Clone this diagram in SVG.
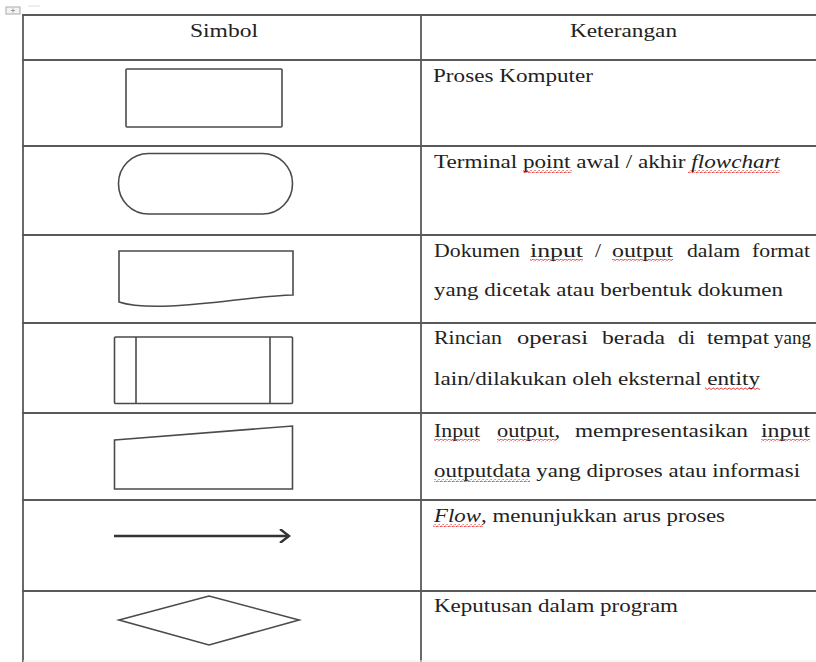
<svg xmlns="http://www.w3.org/2000/svg" width="816" height="662" viewBox="0 0 816 662" font-family="'Liberation Serif', Tinos, 'Times New Roman', 'DejaVu Serif', serif">
<style>
.grid{stroke:#5a5a5a;stroke-width:1.8;fill:none}
.sym{stroke:#4a4a4a;stroke-width:1.6;fill:#fff}
.t{font-size:18.5px;fill:#222}
.i{font-style:italic}
.sq{fill:url(#wave)}
</style>
<defs>
<pattern id="wave" width="4" height="3" patternUnits="userSpaceOnUse">
<path d="M0,2 Q1,0 2,1.5 T4,2" stroke="#e03030" stroke-width="0.9" fill="none"/>
</pattern>
<marker id="ah" markerWidth="12" markerHeight="14" refX="10" refY="7" orient="auto" markerUnits="userSpaceOnUse">
<path d="M1,0 L10,7 L1,14" fill="none" stroke="#333" stroke-width="2.4"/>
</marker>
</defs>
<rect width="816" height="662" fill="#fff"/>
<g id="handle">
<rect x="6" y="7" width="14" height="7" fill="#f4f4f4" stroke="#aaa" stroke-width="1"/>
<path d="M13,8.5 V12.5 M11,10.5 H15" stroke="#888" stroke-width="0.8"/>
<line x1="28" y1="6" x2="40" y2="6" stroke="#ddd" stroke-width="1"/>
</g>
<g id="table">
<line class="grid" x1="22" y1="15" x2="816" y2="15"/>
<line class="grid" x1="22" y1="60" x2="816" y2="60"/>
<line class="grid" x1="22" y1="146" x2="816" y2="146"/>
<line class="grid" x1="22" y1="235" x2="816" y2="235"/>
<line class="grid" x1="22" y1="323" x2="816" y2="323"/>
<line class="grid" x1="22" y1="413" x2="816" y2="413"/>
<line class="grid" x1="22" y1="500" x2="816" y2="500"/>
<line class="grid" x1="22" y1="591" x2="816" y2="591"/>
<line class="grid" x1="23" y1="15" x2="23" y2="662"/>
<line class="grid" x1="421" y1="15" x2="421" y2="662"/>
<line x1="23" y1="661" x2="816" y2="661" stroke="#eee" stroke-width="1"/>
</g>
<g id="header">
<text class="t" x="190" y="37" textLength="68" lengthAdjust="spacingAndGlyphs">Simbol</text>
<text class="t" x="570" y="37" textLength="107" lengthAdjust="spacingAndGlyphs">Keterangan</text>
</g>
<g id="proses">
<rect class="sym" x="126" y="69" width="156" height="58" rx="1"/>
<text class="t" x="433" y="82" textLength="160" lengthAdjust="spacingAndGlyphs">Proses Komputer</text>
</g>
<g id="terminal">
<rect class="sym" x="118.5" y="153.5" width="174" height="60.5" rx="30"/>
<text class="t" x="434" y="168" textLength="346" lengthAdjust="spacingAndGlyphs">Terminal point awal / akhir <tspan class="i">flowchart</tspan></text>
<rect class="sq" x="523" y="170" width="49" height="3"/>
<rect class="sq" x="688" y="170" width="92" height="3"/>
</g>
<g id="dokumen">
<path class="sym" d="M119,251 L293,251 L293,295 C255,296 215,304 170,306 C145,307 128,305 119,302 Z"/>
<text class="t" x="434" y="257" textLength="86" lengthAdjust="spacingAndGlyphs">Dokumen</text>
<text class="t" x="530" y="257" textLength="53" lengthAdjust="spacingAndGlyphs">input</text>
<text class="t" x="595" y="257" textLength="6" lengthAdjust="spacingAndGlyphs">/</text>
<text class="t" x="612" y="257" textLength="61" lengthAdjust="spacingAndGlyphs">output</text>
<text class="t" x="687" y="257" textLength="53" lengthAdjust="spacingAndGlyphs">dalam</text>
<text class="t" x="752" y="257" textLength="58" lengthAdjust="spacingAndGlyphs">format</text>
<text class="t" x="434" y="296" textLength="349" lengthAdjust="spacingAndGlyphs">yang dicetak atau berbentuk dokumen</text>
<rect class="sq" x="530" y="259" width="53" height="3"/>
<rect class="sq" x="612" y="259" width="61" height="3"/>
</g>
<g id="predefined">
<rect class="sym" x="114.5" y="337" width="178" height="66.5" rx="1"/>
<line class="sym" x1="136" y1="337" x2="136" y2="403.5"/>
<line class="sym" x1="270" y1="337" x2="270" y2="403.5"/>
<text class="t" x="434" y="344" textLength="68" lengthAdjust="spacingAndGlyphs">Rincian</text>
<text class="t" x="517" y="344" textLength="71" lengthAdjust="spacingAndGlyphs">operasi</text>
<text class="t" x="602" y="344" textLength="63" lengthAdjust="spacingAndGlyphs">berada</text>
<text class="t" x="678" y="344" textLength="17" lengthAdjust="spacingAndGlyphs">di</text>
<text class="t" x="707" y="344" textLength="62" lengthAdjust="spacingAndGlyphs">tempat</text>
<text class="t" x="774" y="344" textLength="37" lengthAdjust="spacingAndGlyphs">yang</text>
<text class="t" x="434" y="385" textLength="326" lengthAdjust="spacingAndGlyphs">lain/dilakukan oleh eksternal entity</text>
<rect class="sq" x="705" y="387" width="55" height="3"/>
</g>
<g id="manual-input">
<path class="sym" d="M114.5,440 L292.5,426 L292.5,489 L114.5,489 Z"/>
<text class="t" x="434" y="437" textLength="46" lengthAdjust="spacingAndGlyphs">Input</text>
<text class="t" x="497" y="437" textLength="63" lengthAdjust="spacingAndGlyphs">output,</text>
<text class="t" x="575" y="437" textLength="173" lengthAdjust="spacingAndGlyphs">mempresentasikan</text>
<text class="t" x="761" y="437" textLength="49" lengthAdjust="spacingAndGlyphs">input</text>
<text class="t" x="434" y="477" textLength="366" lengthAdjust="spacingAndGlyphs">outputdata yang diproses atau informasi</text>
<rect class="sq" x="434" y="439" width="46" height="3"/>
<rect class="sq" x="497" y="439" width="60" height="3"/>
<rect class="sq" x="761" y="439" width="49" height="3"/>
<rect class="sq" x="434" y="479" width="96" height="3"/>
</g>
<g id="connectors">
<line x1="114" y1="536" x2="289" y2="536" stroke="#333" stroke-width="2.6" marker-end="url(#ah)"/>
</g>
<g id="flow">
<text class="t" x="434" y="522" textLength="291" lengthAdjust="spacingAndGlyphs"><tspan class="i">Flow</tspan>, menunjukkan arus proses</text>
<rect class="sq" x="433" y="524" width="50" height="3"/>
</g>
<g id="decision">
<path class="sym" d="M119,620 L209,596 L299,620 L209,645 Z"/>
<text class="t" x="434" y="612" textLength="244" lengthAdjust="spacingAndGlyphs">Keputusan dalam program</text>
</g>
</svg>
